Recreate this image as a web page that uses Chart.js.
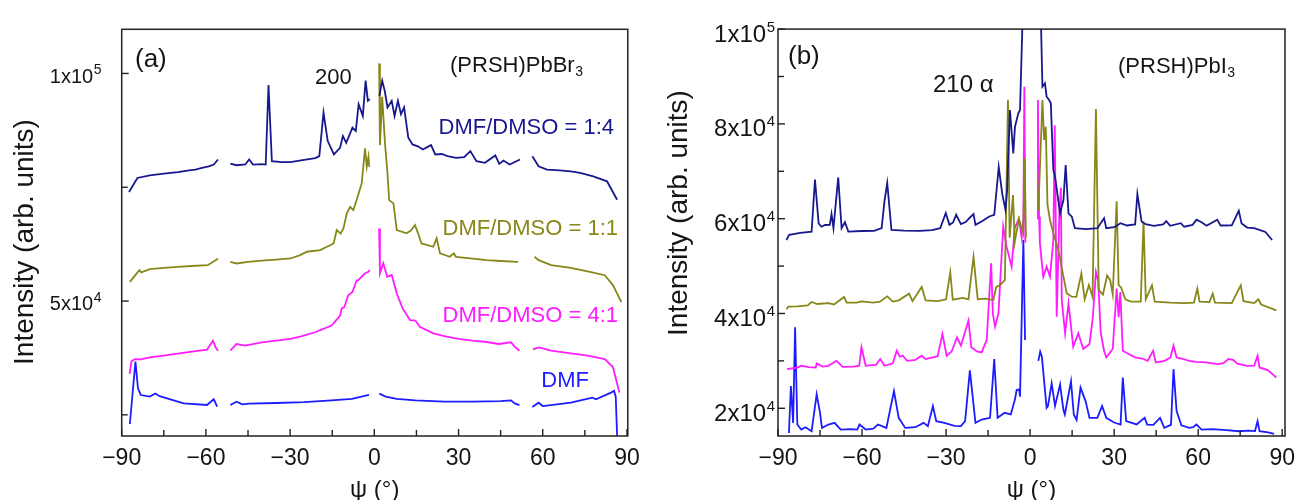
<!DOCTYPE html>
<html><head><meta charset="utf-8">
<script src="https://cdn.jsdelivr.net/npm/chart.js@4.4.1/dist/chart.umd.min.js"></script>
<style>
html,body{margin:0;padding:0;background:#fff;overflow:hidden;}
#wrap{position:relative;width:1300px;height:500px;background:#fff;}
.c{position:absolute;top:0;width:650px;height:500px;}
</style></head><body>
<div id="wrap">
<div class="c" style="left:0"><canvas id="ca"></canvas></div>
<div class="c" style="left:650px"><canvas id="cb"></canvas></div>
</div>
<script>
const FONT = '"Liberation Sans", Arial, Helvetica, sans-serif';
const NAVY = '#18188e', OLIVE = '#87871a', MAGENTA = '#ff1cff', BLUE = '#1c1cff';

// ---------- Panel (a): (PRSH)PbBr3 ----------
const psiA14 = [-87.4,-84.4,-80,-75,-70,-66,-63.8,-61,-59,-57.2,-55.7,-54,-51.3,-49.1,-46,-44.6,-43.2,-40,-38.7,-37.7,-36.5,-33,-29.9,-25,-21,-19.6,-18.1,-16.6,-14.4,-12.2,-11.2,-10,-7.8,-6.6,-5.6,-4.1,-3.1,-2.3,-1.6,0,1.8,2.8,3.7,4.7,6.2,7.2,8.4,9.5,10.6,12.1,13.6,15.5,17.3,20.2,21.7,24,26.1,29.1,32,34.2,36.4,39.4,43.1,44.5,46,48.2,51.9,54,56.3,58.5,61.5,66,70,73.3,78,82.9,86.5];
const intA14 = [73950,77040,77600,78000,78300,78700,78880,79300,79600,79990,81100,null,80210,79840,80000,81100,79990,80100,79990,97450,80720,80500,80500,81000,81400,81830,91410,85150,82200,83670,86250,84780,88090,87360,93250,90670,98410,93990,94360,null,95100,98410,96200,92520,93990,90670,93990,91040,92520,85880,84410,84000,83300,84260,82200,82300,81830,81460,81600,82940,80720,80360,81980,80140,80870,79990,81100,null,81830,79620,78880,78700,78500,78150,77400,76300,72250];

const psiA11 = [-87.1,-83.7,-83,-80,-75,-70,-65,-59.4,-56.4,-55.7,-54,-51.3,-49.1,-45,-40,-35,-29.9,-26.4,-24,-19.3,-14.5,-13.4,-12,-11,-9.8,-8.6,-7.5,-6.3,-4.5,-3.3,-2.7,-2.1,-1.8,0,1.7,2.0,2.8,3.8,4.6,5.3,6.8,8.0,11.5,13,14.5,15.6,16.8,21,22.2,23.4,26.9,28.3,29.1,35,40,45,51.2,54,57.1,58.5,63,70,76,82.1,85,88];
const intA11 = [54200,56780,56300,57000,57300,57500,57700,57880,58990,59350,null,58620,58250,58600,58900,59100,59350,60100,60830,61200,62650,65590,64800,65960,69260,70710,69980,72180,75840,83530,79490,81690,79490,null,102200,84250,94860,84630,78770,72180,71450,65590,64870,65500,66690,64870,62650,61920,63770,60470,59730,60460,59720,59300,59000,58800,58620,null,59720,58990,57880,57300,56500,55670,53500,49780];

const psiA41 = [-87.2,-86.5,-85.2,-83.2,-80,-73.8,-65,-59.6,-57.5,-56.5,-55.7,-54,-51.3,-49.1,-46.1,-40,-35,-29.9,-26.4,-21.1,-19.3,-15.2,-12.2,-11.6,-10.7,-9.3,-7.8,-6.3,-5.7,-3.4,-2.1,-1.6,0,1.7,2.0,3.2,4.6,6.2,8.0,10,12.7,14.6,16.2,21,25.7,30,35,40,44.3,48.7,50,51.7,54,56.5,58.5,60,63,70,76,82.1,85,87.3];
const intA41 = [34000,36800,37250,37200,37600,38140,38900,39300,41290,39800,39090,null,39090,40560,40200,40900,41300,41670,42160,43140,43620,44620,46830,48390,48670,51250,51990,54560,54610,56040,56440,56780,null,65960,56080,58280,55340,55710,51690,48500,45820,45720,44350,42900,42160,41700,41300,41000,40560,40930,40000,39090,null,39400,39830,39600,39090,38500,38000,37250,35500,29880];

const psiADMF = [-87.1,-85.1,-84.2,-83.2,-80,-78,-76.5,-70,-67.9,-59.6,-57.2,-56,-54,-51.3,-49.1,-47,-44.6,-35,-25,-15.2,-8,-1.9,0,1.8,4,8,14.6,25,35,45,48.7,50,51.7,54,56.3,58.5,60,65,70,77.7,79,84.3,85.4,86,86.5,87.5];
const intADMF = [22990,36700,30820,29350,29000,29700,29100,27900,27530,27160,28410,26800,null,27150,27890,27300,27450,27600,27800,28180,28500,29360,null,29660,29000,28500,28180,27900,27900,28000,28180,27500,27150,null,26710,27670,26930,27300,27700,28770,28400,29880,30250,29000,20300,15000];

// ---------- Panel (b): (PRSH)PbI3 ----------
const psiB14 = [-87,-86,-82,-78,-76.8,-75.5,-74.5,-73.2,-71.5,-70.9,-70.2,-68.5,-67.3,-66.1,-64.9,-60,-55.7,-53,-52,-51,-49.5,-45,-39.5,-35,-32.1,-30.1,-28.8,-27.5,-26.4,-24.7,-23,-21.7,-20.2,-19.5,-17.3,-14.6,-12.8,-11.2,-9.9,-8.8,-8.2,-7.2,-6.0,-5.4,-4.2,-3.6,-2.5,0,3.7,4.4,5.3,5.9,6.8,7.4,8.3,8.9,10.7,11.9,12.7,13.7,14.9,16,20,24,26.4,27.2,30,32.3,34.6,37.5,38.3,39.8,41.2,44.2,47.5,48.6,50,53.8,55,58,59.4,61.2,63,66.8,68,72,74.5,75.5,77.5,80,84,86.4];
const intB14 = [55500,56600,57000,57280,68260,59000,58300,58670,58700,61000,58000,68700,58000,59260,57280,57400,57420,58000,63650,67550,57640,57500,57420,57600,57990,61180,58700,59200,60820,58840,59300,60110,60960,58700,59410,60470,60820,70900,65070,61890,66000,82930,73790,79410,82230,82930,106000,null,106000,87850,88560,85740,85040,84340,70270,68870,61130,63940,71330,61130,60430,58000,57800,58000,60110,57990,58200,59050,58560,58800,65210,59400,58840,58480,58800,59500,58500,59050,58300,58700,59800,59260,58500,59800,58560,58600,61670,59000,58130,58000,57200,55510];

const psiB11 = [-87,-86.3,-83,-79.4,-78,-76,-72,-70,-66.4,-65.5,-62,-60.2,-56,-53.6,-51,-49,-46.9,-43.2,-42,-38.7,-37.3,-33,-30,-28.5,-27.6,-24,-22,-20.2,-18.7,-15.8,-13.1,-12.1,-10.7,-9,-7.9,-7.3,-6.1,-5.5,-4,-2.5,-1.9,-1.5,0,2.95,4.4,5.0,5.6,6.2,7.1,8.3,10.1,11.9,13.1,14.9,16.5,18.3,19.5,21,22.3,23.5,24.5,26,27.5,28.6,29.5,30.9,31.6,32.5,34,36,39.5,40.5,41.3,43.5,44.5,50,55,58.5,59.7,60.5,64,65.2,66,72,75.2,76.2,80,81.5,82.5,87.9];
const intB11 = [40900,41440,41500,41710,42420,42000,42200,41900,43480,42300,42300,42560,42300,42490,43620,42500,42770,44180,42600,45600,42770,42600,43000,48700,42900,43300,43000,51970,43000,43120,42840,45600,46010,47060,85100,56000,65000,55000,60000,57000,72700,56000,null,61830,85040,76600,79410,63000,59720,56910,53390,47760,44250,43540,43500,48430,43000,46000,43500,83130,45000,44000,48000,47020,44000,63650,46000,45500,43000,42500,42500,59400,43000,45950,42500,42300,42200,42300,45250,42500,42400,44180,42300,42200,45950,42600,42200,43000,41900,40640];

const psiB41 = [-86.8,-83,-81.7,-79,-76.5,-76.2,-74,-72,-69.1,-66.9,-63,-61,-60.2,-58.7,-55,-53.5,-52,-49,-47.6,-46.5,-45.4,-43.9,-41,-38.7,-37.3,-33,-31.3,-29.8,-28,-26.1,-24.7,-22,-21,-19,-17.3,-15.5,-13.9,-13.3,-12.5,-11.3,-9.6,-8.4,-7.5,-6.6,-5.5,-4,-3,-2.4,-2.05,-1.7,0,2.5,2.8,3.2,3.5,4.7,5.9,7.1,8.3,8.8,9.5,10.5,11,11.3,12.5,13.7,15.4,17.2,19,21.2,22.4,23.5,24.3,25.2,26.4,27.2,29.5,30.9,31.6,32.2,33.1,35,37.5,40,42,43.9,44.9,48,50.1,51.2,52.3,54,56.8,59,62.7,67.1,69,70.8,72.5,74,77.5,80,81.2,81.9,85,87.9];
const intB41 = [28250,28600,28960,28700,28610,29480,28800,28960,30020,28750,28800,29000,32860,28960,29200,30380,28960,29500,32150,30890,31090,30020,30200,31090,30380,31000,35690,31090,32000,34980,33210,38520,32860,32000,31790,34400,50580,39940,37210,40030,58310,54100,52000,49880,58000,60000,56000,60000,87850,55000,null,60000,85040,60430,54800,47760,49870,47760,55500,79700,39320,62000,66500,42840,35810,42140,33000,35810,32500,33560,39230,48790,47000,36000,32150,30730,32500,45250,39230,44500,32150,31500,30730,30500,30020,32150,29670,30000,30730,33210,30730,30500,30020,29800,29670,29320,29500,30380,30200,29400,28960,29000,31090,28610,28000,26480];

const psiBDMF = [-86.1,-85.4,-84.6,-83.9,-83.1,-81.7,-80.2,-78,-76.2,-75,-74.3,-72,-69.8,-67.6,-64,-61.7,-60.9,-58.7,-56,-54.3,-51.3,-48.6,-46.9,-44.6,-41,-38,-36.5,-34.7,-33.5,-30.6,-27,-24.7,-23.2,-21.5,-19.5,-17.3,-14.3,-12.8,-11.6,-9.1,-6.9,-5.4,-4.8,-3.9,-3.6,-2.4,-1.8,0,2.95,3.6,4.2,5.9,6.4,7.7,8.9,10.7,11.9,12.4,14.6,15.6,16.6,18,19.8,21.2,24,25.7,27.2,30,32.3,33.1,34.3,38,40.9,41.8,44,46.4,47.9,50.3,51.2,52.3,54,56.8,58.2,59.4,61.2,65,70,74.5,78,80.3,81.2,81.9,85,87.1];
const intBDMF = [14800,24710,16920,37100,16570,15510,16000,15150,22940,19050,15860,16570,16920,15510,15600,15510,16570,15510,15700,16570,15860,23650,17980,15860,16000,16920,16220,20460,17280,16920,16300,16220,17280,28000,16920,17630,17980,30380,17980,19050,18700,21880,23850,24000,22450,55500,34400,null,30000,31940,30880,20110,20500,25260,20500,25000,19630,18690,25700,18690,17520,24360,21520,17980,18000,20460,17980,17000,16570,26480,17280,16600,17980,16570,16500,17980,15860,16500,28250,19410,16400,15860,16000,16570,15510,15600,15400,15150,15300,15200,17280,15150,14900,14580];

// ---------- ticks ----------
const xTickVals = [-90,-75,-60,-45,-30,-15,0,15,30,45,60,75,90];
const xTickLabels = ['\u221290','','\u221260','','\u221230','','0','','30','','60','','90'];
const yTickValsA = [25000,50000,75000,100000];
const yTickMantA = ['','5x10','','1x10'];
const yTickExpA  = ['','4','','5'];
const yTickValsB = [20000,30000,40000,50000,60000,70000,80000,90000,100000];
const yTickMantB = ['2x10','','4x10','','6x10','','8x10','','1x10'];
const yTickExpB  = ['4','','4','','4','','4','','5'];

function pts(xs, ys){ return xs.map((x,i)=>({x:x, y:ys[i]})); }
function ds(xs, ys, color){
  return {data:pts(xs,ys), borderColor:color, backgroundColor:color, borderWidth:1.8,
          pointRadius:0, fill:false, tension:0, spanGaps:false};
}

function drawText(ctx, n){
  ctx.fillStyle = n.color || '#151515';
  ctx.textBaseline = 'middle';
  ctx.font = n.size + 'px ' + FONT;
  const w = ctx.measureText(n.t).width;
  let ws = 0;
  if (n.sub){ ctx.font = Math.round(n.size*0.62) + 'px ' + FONT; ws = ctx.measureText(n.sub).width; }
  let x0 = n.align === 'right' ? n.x - w - ws : n.x;
  ctx.textAlign = 'left';
  ctx.font = n.size + 'px ' + FONT;
  ctx.fillText(n.t, x0, n.y);
  if (n.sub){
    ctx.font = Math.round(n.size*0.62) + 'px ' + FONT;
    ctx.fillText(n.sub, x0 + w + 0.5, n.y + n.size*0.3);
  }
}

function axesPlugin(P){
  return {id:'axes'+P.name, afterDraw(chart){
    const ctx = chart.ctx, a = chart.chartArea, xs = chart.scales.x, ys = chart.scales.y;
    ctx.save();
    ctx.strokeStyle = '#222'; ctx.lineWidth = 1.5;
    ctx.strokeRect(a.left, a.top, a.right - a.left, a.bottom - a.top);
    ctx.lineWidth = 1.4; ctx.fillStyle = '#151515';
    xTickVals.forEach((v,i)=>{
      const px = xs.getPixelForValue(v), lab = xTickLabels[i];
      ctx.beginPath(); ctx.moveTo(px, a.bottom); ctx.lineTo(px, a.bottom - (lab ? 7 : 6)); ctx.stroke();
      if (lab){
        ctx.font = '23px ' + FONT; ctx.textAlign = 'center'; ctx.textBaseline = 'alphabetic';
        ctx.fillText(lab, px, 465);
      }
    });
    P.yVals.forEach((v,i)=>{
      const py = ys.getPixelForValue(v), m = P.yMant[i], e = P.yExp[i];
      ctx.beginPath(); ctx.moveTo(a.left, py); ctx.lineTo(a.left + (m ? 7 : 6), py); ctx.stroke();
      if (m){
        ctx.textAlign = 'left'; ctx.textBaseline = 'alphabetic';
        ctx.font = P.ySup + 'px ' + FONT; const w2 = ctx.measureText(e).width;
        ctx.font = P.yFont + 'px ' + FONT; const w1 = ctx.measureText(m).width;
        const base = py + P.yOff + 0.358*P.yFont;
        ctx.fillText(m, P.yRight - w2 - w1 - 0.5, base);
        ctx.font = P.ySup + 'px ' + FONT;
        ctx.fillText(e, P.yRight - w2, base - 0.42*P.yFont);
      }
    });
    // axis titles
    ctx.fillStyle = '#151515';
    ctx.font = '24px ' + FONT; ctx.textAlign = 'center'; ctx.textBaseline = 'alphabetic';
    ctx.fillText('\u03c8 (\u00b0)', (a.left + a.right)/2, 497);
    ctx.save();
    ctx.translate(P.tX, P.tY); ctx.rotate(-Math.PI/2);
    ctx.font = '28px ' + FONT; ctx.textAlign = 'center'; ctx.textBaseline = 'middle';
    ctx.fillText('Intensity (arb. units)', 0, 0);
    ctx.restore();
    P.notes.forEach(n => drawText(ctx, n));
    ctx.restore();
  }};
}

function makeChart(id, sets, P){
  return new Chart(document.getElementById(id), {
    type:'line',
    data:{datasets:sets},
    options:{
      responsive:true, maintainAspectRatio:false, animation:false,
      layout:{padding:{left:0, right:P.padR, top:P.padT, bottom:0}},
      plugins:{legend:{display:false}, tooltip:{enabled:false}},
      scales:{
        x:{type:'linear', min:P.xmin, max:P.xmax, grid:{display:false}, border:{display:false},
           ticks:{display:false}, afterFit(s){ s.height = 64; }},
        y:{type:'linear', min:P.ymin, max:P.ymax, grid:{display:false}, border:{display:false},
           ticks:{display:false}, afterFit(s){ s.width = P.yW; }}
      }
    },
    plugins:[axesPlugin(P)]
  });
}

makeChart('ca', [
  ds(psiA14, intA14, NAVY), ds(psiA11, intA11, OLIVE), ds(psiA41, intA41, MAGENTA), ds(psiADMF, intADMF, BLUE)
], {name:'a', xmin:-90, xmax:90.3, ymin:20350, ymax:109700, yW:121.7, padR:22.2, padT:29.3,
    yVals:yTickValsA, yMant:yTickMantA, yExp:yTickExpA, yFont:20, ySup:14, yRight:101.5, yOff:2,
    tX:25, tY:242,
    notes:[
      {t:'(a)', x:135, y:60, size:26},
      {t:'200', x:315, y:78, size:22},
      {t:'(PRSH)PbBr', sub:'3', x:450, y:66, size:22},
      {t:'DMF/DMSO = 1:4', x:614, y:128, size:22, color:NAVY, align:'right'},
      {t:'DMF/DMSO = 1:1', x:618, y:229, size:22, color:OLIVE, align:'right'},
      {t:'DMF/DMSO = 4:1', x:618, y:316, size:22, color:MAGENTA, align:'right'},
      {t:'DMF', x:589, y:381, size:22, color:BLUE, align:'right'}
    ]});

makeChart('cb', [
  ds(psiB14, intB14, NAVY), ds(psiB11, intB11, OLIVE), ds(psiB41, intB41, MAGENTA), ds(psiBDMF, intBDMF, BLUE)
], {name:'b', xmin:-90, xmax:91, ymin:14150, ymax:100000, yW:128, padR:15, padT:29.1,
    yVals:yTickValsB, yMant:yTickMantB, yExp:yTickExpB, yFont:24, ySup:15, yRight:125, yOff:4,
    tX:29, tY:213,
    notes:[
      {t:'(b)', x:138, y:57, size:26},
      {t:'210 \u03b1', x:283, y:85, size:24},
      {t:'(PRSH)PbI', sub:'3', x:468, y:67, size:22}
    ]});
</script>
</body></html>
